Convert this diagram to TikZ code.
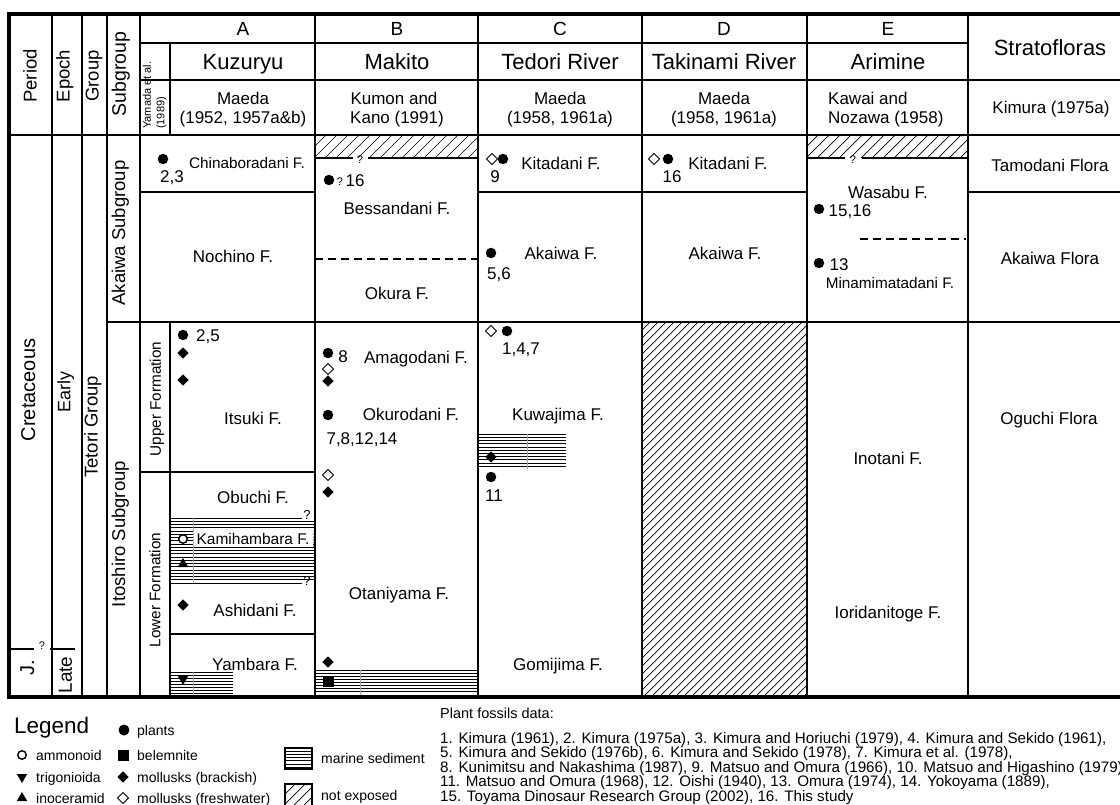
\documentclass[tikz,border=0pt]{standalone}
\usepackage{fontspec}
\setmainfont{Liberation Sans}
\usetikzlibrary{shapes.geometric}
\newcommand{\hatchbox}[5]{%
  \begin{scope}
    \clip (#1,#2) rectangle (#3,#4);
    \pgfmathsetmacro{\hh}{#4-#2}
    \pgfmathsetmacro{\hs}{#1-\hh}
    \pgfmathsetmacro{\hn}{#1-\hh+#5}
    \foreach \k in {\hs,\hn,...,#3} \draw[hatchln] (\k,#4) -- ++(\hh,-\hh);
  \end{scope}}
\newcommand{\marine}[5]{%
  \pgfmathsetmacro{\ms}{#3+#5}
  \foreach \yy in {#3,\ms,...,#4} \draw[marln] (#1,\yy) -- (#2,\yy);}
\begin{document}
\begin{tikzpicture}[x=1pt,y=-1pt,
  frame/.style={line width=3.2pt},
  thk/.style={line width=2.6pt},
  thn/.style={line width=1.3pt},
  hatchln/.style={line width=0.7pt},
  marln/.style={line width=0.6pt},
  faint/.style={line width=0.5pt, gray!70},
  dline/.style={line width=1.1pt, dash pattern=on 8pt off 5pt},
  fs/.style={inner sep=0pt, font=\fontsize{#1}{#1}\selectfont, text height=0.716*#1pt, text depth=0pt},
  rot/.style={fs=#1, rotate=90},
  dotm/.style={circle, fill=black, inner sep=0pt, minimum size=10.5pt},
  fd/.style={diamond, fill=black, inner sep=0pt, minimum size=11.5pt},
  od/.style={diamond, draw=black, fill=white, line width=0.9pt, inner sep=0pt, minimum size=11.5pt},
  sqm/.style={rectangle, fill=black, inner sep=0pt, minimum size=11pt},
  amm/.style={circle, draw=black, line width=1.4pt, fill=white, inner sep=0pt, minimum size=8.5pt},
  tup/.style={regular polygon, regular polygon sides=3, fill=black, inner sep=0pt, minimum size=12pt},
  tdn/.style={tup, shape border rotate=180}
]
\useasboundingbox (0,0) rectangle (1120,805);
\clip (0,0) rectangle (1120,805);

% ---------- hatched (not exposed) areas ----------
\hatchbox{315}{135}{478}{158}{11}
\hatchbox{807}{135}{968}{158}{11}
\hatchbox{642}{322}{807}{697}{8}

% ---------- marine sediment ----------
\marine{170}{315}{521.25}{580}{3.25}
\draw[marln] (170,518) -- (302,518);
\draw[marln] (170,583) -- (302,583);
\fill[white] (193,531) rectangle (313,547);
\draw[faint, densely dotted] (193,531) -- (193,547) (313,531) -- (313,547);
\draw[faint] (193,518) -- (193,531) (193,547) -- (193,583);
\node[fs=13] (qa1) at (307,515) {?};
\node[fs=13] (qa2) at (307,581) {?};
\marine{170}{233}{672}{697}{3.1}
\draw[faint] (193,672) -- (193,697);
\marine{315}{478}{670}{697}{3.1}
\draw[faint] (360,670) -- (360,697);
\marine{478}{566}{434}{469}{3.2}
\draw[faint] (527,434) -- (527,469);

% ---------- grid ----------
\draw[thn] (52,14) -- (52,697);
\draw[thn] (82,14) -- (82,697);
\draw[thn] (107,14) -- (107,697);
\draw[line width=1.6pt] (140,14) -- (140,697);
\draw[thn] (170,43) -- (170,135);
\draw[thn] (170,322) -- (170,697);
\draw[thn] (140,43) -- (968,43);
\draw[thn] (140,80) -- (1130,80);
\draw[line width=1.6pt] (9,135) -- (1130,135);
\draw[thn] (140,192) -- (315,192);
\draw[thn] (478,192) -- (807,192);
\draw[thn] (968,192) -- (1130,192);
\draw[thn] (140,472) -- (315,472);
\draw[thn] (170,634) -- (315,634);
\draw[thn] (315,158) -- (353,158) (368,158) -- (478,158);
\draw[thn] (807,158) -- (845,158) (862,158) -- (968,158);
\draw[dline] (315,259) -- (478,259);
\draw[dline] (860,239) -- (966,239);
\draw[thn] (9,649) -- (34,649) (50,649) -- (75,649);
\foreach \xx in {315,478,642,807,968} \draw[thk] (\xx,14) -- (\xx,697);
\draw[thk] (107,322) -- (1130,322);
\draw[frame] (1130,14) -- (9,14) -- (9,697) -- (1130,697);

% ---------- header ----------
\node[fs=19] (hA) at (243,29) {A};
\node[fs=19] (hB) at (397,29) {B};
\node[fs=19] (hC) at (560,29) {C};
\node[fs=19] (hD) at (724,29) {D};
\node[fs=19] (hE) at (888,29) {E};
\node[fs=22] (nA) at (243,62) {Kuzuryu};
\node[fs=22] (nB) at (397,62) {Makito};
\node[fs=22] (nC) at (560,62) {Tedori River};
\node[fs=22] (nD) at (724,62) {Takinami River};
\node[fs=22] (nE) at (888,62) {Arimine};
\node[fs=22] (nS) at (1050,48) {Stratofloras};
\node[fs=17] (rA1) at (243,98) {Maeda};
\node[fs=17] (rA2) at (243,117) {(1952, 1957a\&b)};
\node[fs=17] (rB1) at (394,98) {Kumon and};
\node[fs=17] (rB2) at (397,117) {Kano (1991)};
\node[fs=17] (rC1) at (560,98) {Maeda};
\node[fs=17] (rC2) at (560,117) {(1958, 1961a)};
\node[fs=17] (rD1) at (724,98) {Maeda};
\node[fs=17] (rD2) at (724,117) {(1958, 1961a)};
\node[fs=17, anchor=west] (rE1) at (828,98) {Kawai and};
\node[fs=17, anchor=west] (rE2) at (828,117) {Nozawa (1958)};
\node[fs=17] (rS) at (1051,107) {Kimura (1975a)};
\node[rot=18.5] (hPeriod) at (30,76) {Period};
\node[rot=18.5] (hEpoch) at (63,76) {Epoch};
\node[rot=18.5] (hGroup) at (92,76) {Group};
\node[rot=19.5] (hSub) at (119,74) {Subgroup};
\node[rot=11, anchor=west] (hYam1) at (147,129) {Yamada et al.};
\node[rot=11, anchor=west] (hYam2) at (160.5,129) {(1989)};

% ---------- left columns ----------
\node[rot=20] (cret) at (28,390) {Cretaceous};
\node[rot=20] (jur) at (27,668) {J.};
\node[fs=11] (qj) at (42,646) {?};
\node[rot=18] (early) at (64,392) {Early};
\node[rot=19] (late) at (65,675) {Late};
\node[rot=18.5] (tetori) at (91,427) {Tetori Group};
\node[rot=18.5] (akaiwa) at (118.5,233) {Akaiwa Subgroup};
\node[rot=18.5] (itoshiro) at (118.5,534) {Itoshiro Subgroup};
\node[rot=15.3] (upper) at (155.5,399) {Upper Formation};
\node[rot=15.3] (lower) at (155,590) {Lower Formation};

% ---------- column A ----------
\node[dotm] (a1) at (163,159) {};
\node[fs=17] (a1n) at (172,176) {2,3};
\node[fs=15.3] (chin) at (247,163) {Chinaboradani F.};
\node[fs=17] (noch) at (233,256) {Nochino F.};
\node[dotm] (a2) at (183,335) {};
\node[fs=17] (a2n) at (208,335) {2,5};
\node[fd] (a3) at (183,353) {};
\node[fd] (a4) at (183,380) {};
\node[fs=17] (itsuki) at (253,418) {Itsuki F.};
\node[fs=17] (obuchi) at (253,497) {Obuchi F.};
\node[amm] (a5) at (183,539) {};
\node[fs=15.5] (kami) at (253,539) {Kamihambara F.};
\node[tup] (a6) at (183,564) {};
\node[fd] (a7) at (183,605) {};
\node[fs=17] (ashi) at (255,610) {Ashidani F.};
\node[fs=17] (yamb) at (255,664) {Yambara F.};
\node[tdn] (a8) at (183,679) {};

% ---------- column B ----------
\node[fs=11] (qb) at (360,160) {?};
\node[dotm] (b1) at (329,180) {};
\node[fs=11] (b1q) at (340,182) {?};
\node[fs=17] (b1n) at (355,180) {16};
\node[fs=17] (bess) at (397,208) {Bessandani F.};
\node[fs=17] (okura) at (397,293) {Okura F.};
\node[dotm] (b2) at (328,353) {};
\node[fs=17] (b2n) at (343,356) {8};
\node[fs=17] (amag) at (416,357) {Amagodani F.};
\node[od] (b3) at (328,369) {};
\node[fd] (b4) at (328,381) {};
\node[dotm] (b5) at (328,415) {};
\node[fs=17] (okur) at (411,414) {Okurodani F.};
\node[fs=17] (b5n) at (362,438) {7,8,12,14};
\node[od] (b6) at (328,475) {};
\node[fd] (b7) at (328,492) {};
\node[fs=17] (otan) at (399,593) {Otaniyama F.};
\node[fd] (b8) at (328,662) {};
\node[sqm] (b9) at (328,681) {};

% ---------- column C ----------
\node[od] (c1) at (492,159) {};
\node[dotm] (c2) at (503,159) {};
\node[fs=17] (c2n) at (495,176) {9};
\node[fs=17] (kitC) at (561,163) {Kitadani F.};
\node[dotm] (c3) at (491,253) {};
\node[fs=17] (akC) at (561,253) {Akaiwa F.};
\node[fs=17] (c3n) at (499,273) {5,6};
\node[od] (c4) at (491,331) {};
\node[dotm] (c5) at (507,331) {};
\node[fs=17] (c5n) at (521,348) {1,4,7};
\node[fs=17] (kuwa) at (558,414) {Kuwajima F.};
\node[fd] (c6) at (491,457) {};
\node[dotm] (c7) at (491,477) {};
\node[fs=17] (c7n) at (494,495) {11};
\node[fs=17] (gomi) at (558,664) {Gomijima F.};

% ---------- column D ----------
\node[od] (d1) at (654,159) {};
\node[dotm] (d2) at (668,159) {};
\node[fs=17] (d2n) at (672,176) {16};
\node[fs=17] (kitD) at (728,163) {Kitadani F.};
\node[fs=17] (akD) at (725,253) {Akaiwa F.};

% ---------- column E ----------
\node[fs=11] (qe) at (853,160) {?};
\node[fs=17] (wasabu) at (888,192) {Wasabu F.};
\node[dotm] (e1) at (819,209) {};
\node[fs=17] (e1n) at (850,210) {15,16};
\node[dotm] (e2) at (819,263) {};
\node[fs=17] (e2n) at (839,264) {13};
\node[fs=15.3] (mina) at (890,283) {Minamimatadani F.};
\node[fs=17] (inot) at (888,458) {Inotani F.};
\node[fs=17] (iori) at (888,612) {Ioridanitoge F.};

% ---------- stratofloras ----------
\node[fs=17] (tamo) at (1050,165) {Tamodani Flora};
\node[fs=17] (akFl) at (1050,258) {Akaiwa Flora};
\node[fs=17] (oguchi) at (1049,418) {Oguchi Flora};

% ---------- legend ----------
\node[fs=22.5, anchor=west] (leg) at (14,725) {Legend};
\node[dotm, minimum size=11pt] (l1) at (124,730) {};
\node[fs=14, anchor=west] (l1t) at (137,730) {plants};
\node[amm] (l2) at (22,755) {};
\node[fs=14, anchor=west] (l2t) at (36,755) {ammonoid};
\node[sqm] (l3) at (123,755) {};
\node[fs=14, anchor=west] (l3t) at (137,755) {belemnite};
\node[tdn] (l4) at (22,777) {};
\node[fs=14, anchor=west] (l4t) at (36,777) {trigonioida};
\node[fd] (l5) at (123,777) {};
\node[fs=14, anchor=west] (l5t) at (137,777) {mollusks (brackish)};
\node[tup] (l6) at (22,798) {};
\node[fs=14, anchor=west] (l6t) at (36,798) {inoceramid};
\node[od] (l7) at (123,798) {};
\node[fs=14, anchor=west] (l7t) at (137,798) {mollusks (freshwater)};
\marine{285}{312}{751}{767}{3.2}
\draw[line width=1.2pt] (285,748) rectangle (312,769);
\node[fs=14, anchor=west] (l8t) at (321,758) {marine sediment};
\hatchbox{285}{784}{312}{815}{10}
\draw[line width=1.2pt] (285,784) rectangle (312,815);
\node[fs=14, anchor=west] (l9t) at (321,795) {not exposed};

% ---------- plant fossils data ----------
\node[fs=14.5, anchor=west] (pf0) at (440,713) {Plant fossils data:};
\node[fs=15.2, anchor=west] (pf1) at (440,738) {1. Kimura (1961), 2. Kimura (1975a), 3. Kimura and Horiuchi (1979), 4. Kimura and Sekido (1961),};
\node[fs=15.2, anchor=west] (pf2) at (440,752.5) {5. Kimura and Sekido (1976b), 6. Kimura and Sekido (1978), 7. Kimura et al. (1978),};
\node[fs=15.2, anchor=west] (pf3) at (440,767) {8. Kunimitsu and Nakashima (1987), 9. Matsuo and Omura (1966), 10. Matsuo and Higashino (1979),};
\node[fs=15.2, anchor=west] (pf4) at (440,781.5) {11. Matsuo and Omura (1968), 12. Oishi (1940), 13. Omura (1974), 14. Yokoyama (1889),};
\node[fs=15.2, anchor=west] (pf5) at (440,796) {15. Toyama Dinosaur Research Group (2002), 16. This study};
\end{tikzpicture}
\end{document}
